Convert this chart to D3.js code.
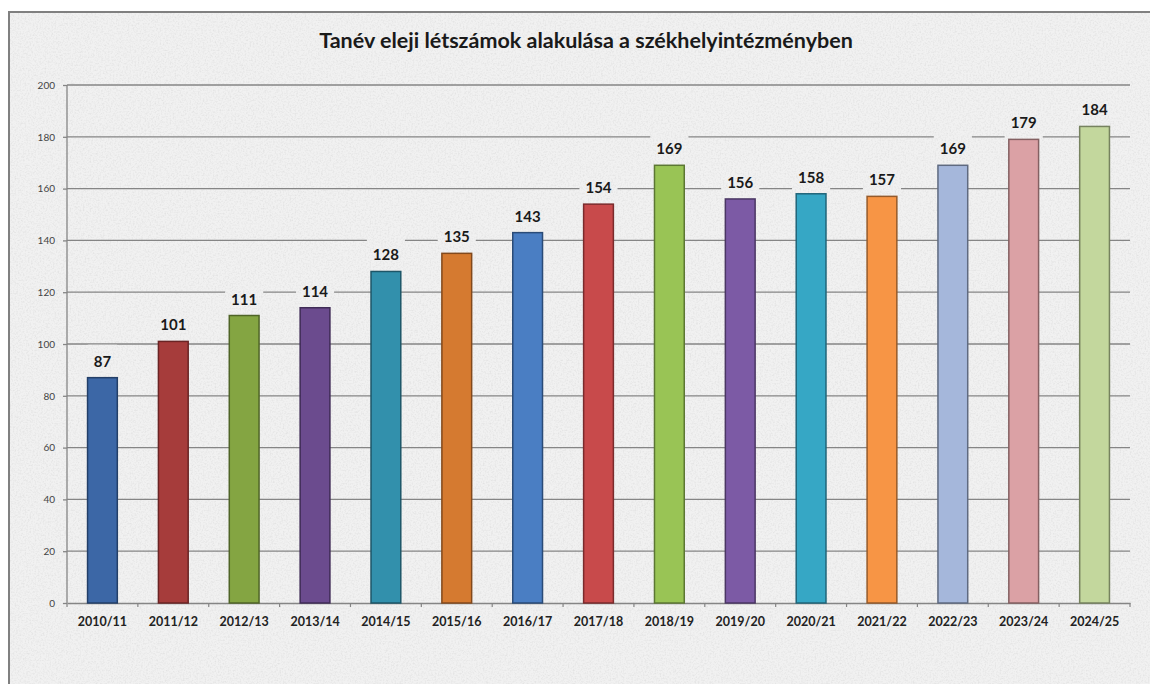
<!DOCTYPE html>
<html>
<head>
<meta charset="utf-8">
<script src="https://cdn.jsdelivr.net/npm/d3@7"></script>
<style>
  body { margin: 0; background: #ffffff; }
  svg { display: block; }
</style>
</head>
<body>
<svg width="1150" height="684"></svg>
<script>
// tanév kategóriák + létszámok
const years = ["2010/11","2011/12","2012/13","2013/14","2014/15","2015/16","2016/17","2017/18",
               "2018/19","2019/20","2020/21","2021/22","2022/23","2023/24","2024/25"];
const counts = [87, 101, 111, 114, 128, 135, 143, 154, 169, 156, 158, 157, 169, 179, 184];
const yTicks = [0, 20, 40, 60, 80, 100, 120, 140, 160, 180, 200];
const barFill = ["#3c67a6","#a63c3b","#84a542","#6b4b8e","#3290ac","#d57a30","#4a7ec3","#c84a4b",
                 "#99c455","#7c5aa5","#36a7c5","#f79545","#a5b7db","#dba1a5","#c3d79d"];
const barStroke = ["#233f68","#6a2424","#4f6427","#3f2b56","#1d5668","#82491c","#2a4b77","#7a2b2c",
                   "#5c7733","#4a3663","#206579","#955a2a","#5f6a80","#846062","#76825f"];
const title = "Tanév eleji létszámok alakulása a székhelyintézményben";

const svg = d3.select("svg");
const W = 1150, H = 684;
const plot = { left: 67, right: 1130, top: 85, bottom: 603 };

// papír textúra
const defs = svg.append("defs");
const f = defs.append("filter").attr("id", "paper")
  .attr("x", 0).attr("y", 0).attr("width", "100%").attr("height", "100%");
f.append("feTurbulence").attr("type", "fractalNoise").attr("baseFrequency", 0.6)
  .attr("numOctaves", 2).attr("seed", 4).attr("result", "n");
f.append("feColorMatrix").attr("in", "n").attr("type", "matrix")
  .attr("values", "0 0 0 0 0.6  0 0 0 0 0.6  0 0 0 0 0.6  0 0 0 -1.4 0.8");

svg.append("rect").attr("x", 8).attr("y", 12).attr("width", W).attr("height", H)
  .attr("fill", "#f1f1f1");
svg.append("rect").attr("x", 8).attr("y", 12).attr("width", W).attr("height", H)
  .attr("fill", "#fff").attr("filter", "url(#paper)").attr("opacity", 0.6);
svg.append("line").attr("x1", 8).attr("x2", W).attr("y1", 12).attr("y2", 12)
  .attr("stroke", "#808080").attr("stroke-width", 2);
svg.append("line").attr("x1", 9).attr("x2", 9).attr("y1", 12).attr("y2", H)
  .attr("stroke", "#808080").attr("stroke-width", 2);

const x = d3.scaleBand().domain(years).range([plot.left, plot.right]).paddingInner(0.58).paddingOuter(0.29);
const y = d3.scaleLinear().domain([0, 200]).range([plot.bottom, plot.top]);

// címkék dobozai -> maszk a rácsvonalakhoz
const lblW = d => String(d).length * 8.7 + 12;
const mask = defs.append("mask").attr("id", "gridMask")
  .attr("maskUnits", "userSpaceOnUse")
  .attr("x", 0).attr("y", 0).attr("width", W).attr("height", H);
mask.append("rect").attr("x", 0).attr("y", 0).attr("width", W).attr("height", H).attr("fill", "#fff");
mask.selectAll("rect.hole").data(counts).join("rect")
  .attr("class", "hole")
  .attr("x", (d, i) => x(years[i]) + x.bandwidth() / 2 - lblW(d) / 2)
  .attr("y", d => y(d) - 33)
  .attr("width", d => lblW(d))
  .attr("height", 32)
  .attr("fill", "#000");

const grid = svg.append("g").attr("mask", "url(#gridMask)");
grid.selectAll("line").data(yTicks.filter(t => t > 0)).join("line")
  .attr("x1", plot.left).attr("x2", plot.right)
  .attr("y1", d => y(d)).attr("y2", d => y(d))
  .attr("stroke", "#858585").attr("stroke-width", 1.3);

const yAxis = d3.axisLeft(y).tickValues(yTicks).tickSize(4).tickPadding(8);
const gy = svg.append("g").attr("transform", `translate(${plot.left},0)`).call(yAxis);
gy.select(".domain").attr("d", `M0,${plot.top}V${plot.bottom}`)
  .attr("stroke", "#858585").attr("stroke-width", 1.3);
gy.selectAll(".tick line").attr("stroke", "#858585").attr("stroke-width", 1.3);
gy.selectAll(".tick text").attr("fill", "#444").style("font-family", "Lato, sans-serif")
  .style("font-size", "10px");

const xAxis = d3.axisBottom(x).tickSize(0).tickPadding(14);
const gx = svg.append("g").attr("transform", `translate(0,${plot.bottom})`).call(xAxis);
gx.select(".domain").attr("stroke", "#858585").attr("stroke-width", 1.3);
gx.selectAll(".tick text").attr("fill", "#222").style("font-family", "Lato, sans-serif")
  .style("font-size", "12.5px").style("font-weight", 700);
// osztásjelek a kategóriák között
gx.selectAll("line.sep").data(d3.range(years.length + 1)).join("line")
  .attr("class", "sep")
  .attr("x1", i => plot.left + i * x.step())
  .attr("x2", i => plot.left + i * x.step())
  .attr("y1", 0).attr("y2", 4)
  .attr("stroke", "#858585").attr("stroke-width", 1.2);

svg.selectAll("rect.bar").data(counts).join("rect")
  .attr("class", "bar")
  .attr("x", (d, i) => x(years[i]))
  .attr("y", d => y(d))
  .attr("width", x.bandwidth())
  .attr("height", d => plot.bottom - y(d))
  .attr("fill", (d, i) => barFill[i])
  .attr("stroke", (d, i) => barStroke[i])
  .attr("stroke-width", 1.5);

svg.selectAll("text.val").data(counts).join("text")
  .attr("class", "val")
  .attr("x", (d, i) => x(years[i]) + x.bandwidth() / 2)
  .attr("y", d => y(d) - 11)
  .attr("text-anchor", "middle")
  .style("font-family", "Lato, sans-serif")
  .style("font-size", "15px").style("font-weight", 700)
  .attr("fill", "#1a1a1a")
  .text(d => d);

svg.append("text")
  .attr("x", 586).attr("y", 48)
  .attr("text-anchor", "middle")
  .style("font-family", "Lato, sans-serif")
  .style("font-size", "21.5px").style("font-weight", 700)
  .attr("fill", "#1a1a1a")
  .text(title);
</script>
</body>
</html>
